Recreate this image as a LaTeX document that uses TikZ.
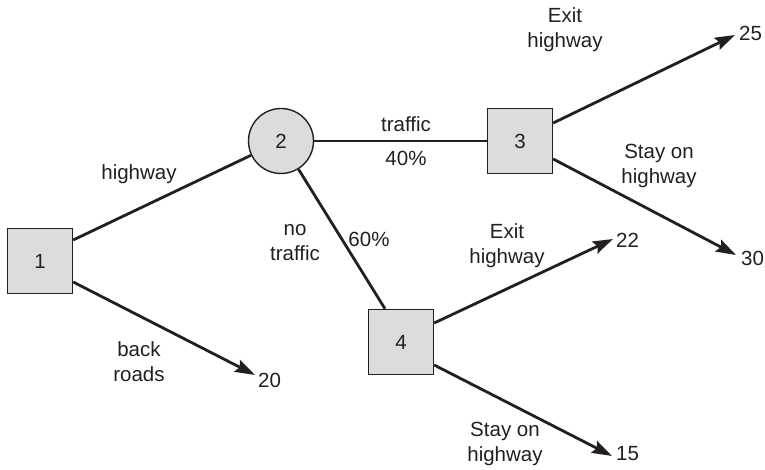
\documentclass[tikz,border=0pt]{standalone}
\usepackage{fontspec}
\setmainfont{Liberation Sans}
\usetikzlibrary{arrows.meta}
\definecolor{boxgray}{HTML}{DCDCDE}
\definecolor{ink}{HTML}{231F20}
\begin{document}
\begin{tikzpicture}[x=1pt,y=-1pt,
  every node/.style={font=\fontsize{20.5}{25}\selectfont, text=ink},
  decision/.style={draw=ink, line width=1.4pt, fill=boxgray, minimum size=65pt, inner sep=0pt},
  chance/.style={draw=ink, line width=1.4pt, fill=boxgray, circle, minimum size=65pt, inner sep=0pt},
  lbl/.style={align=center, inner sep=0pt},
  branch/.style={draw=ink, line width=2.8pt},
  arrowbranch/.style={branch, -{Stealth[length=20pt,width=13pt,inset=3pt]}},
]
\useasboundingbox (0,0) rectangle (765,470);
\node[decision] (n1) at (40,261) {1};
\node[chance]   (n2) at (281,141) {2};
\node[decision] (n3) at (520,141) {3};
\node[decision] (n4) at (401,342) {4};

\coordinate (t25) at (735,35);
\coordinate (t30) at (736,255);
\coordinate (t22) at (613,239);
\coordinate (t20) at (255,375);
\coordinate (t15) at (612,456);

\draw[branch] ([yshift=21pt]n1.east) -- (n2);
\draw[arrowbranch] ([yshift=-21pt]n1.east) -- (t20);
\draw[branch] (n2) -- (n3);
\draw[branch] (n2) -- ([xshift=-16pt]n4.north);
\draw[arrowbranch] ([yshift=18pt]n3.east) -- (t25);
\draw[arrowbranch] ([yshift=-18pt]n3.east) -- (t30);
\draw[arrowbranch] ([yshift=19pt]n4.east) -- (t22);
\draw[arrowbranch] ([yshift=-23pt]n4.east) -- (t15);

\node[lbl] (lhw)  at (139,174) {highway};
\node[lbl] (lbr)  at (139,362) {back\\roads};
\node[lbl] (ltr)  at (406,124) {traffic};
\node[lbl] (l40)  at (406,158) {40\%};
\node[lbl] (lno)  at (295,243) {no\\traffic};
\node[lbl] (l60)  at (369,239) {60\%};
\node[lbl] (lex1) at (565,30)  {Exit\\highway};
\node[lbl] (lst1) at (659,166) {Stay on\\highway};
\node[lbl] (lex2) at (507,246) {Exit\\highway};
\node[lbl] (lst2) at (505,444) {Stay on\\highway};

\node[lbl, anchor=west] (v25) at (739,33)  {25};
\node[lbl, anchor=west] (v30) at (741,258) {30};
\node[lbl, anchor=west] (v22) at (616,240) {22};
\node[lbl, anchor=west] (v20) at (258,380) {20};
\node[lbl, anchor=west] (v15) at (616,454) {15};
\end{tikzpicture}
\end{document}
